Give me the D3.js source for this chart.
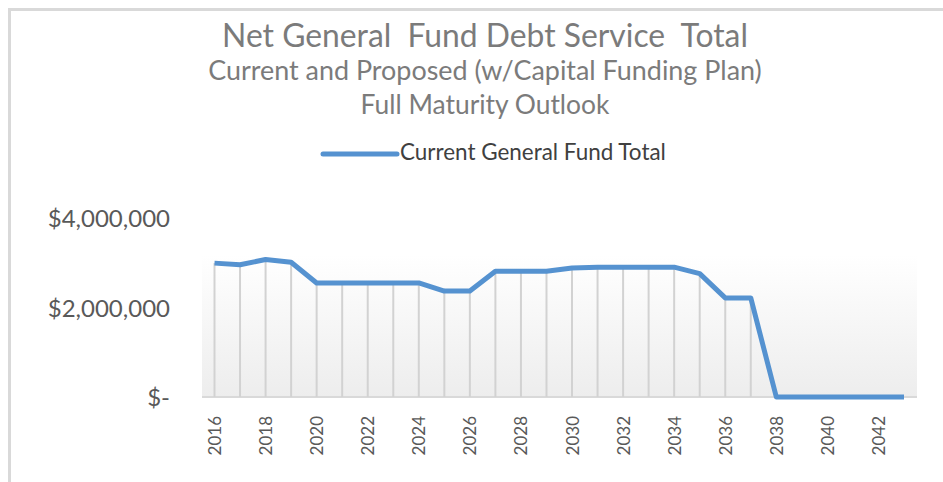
<!DOCTYPE html>
<html><head><meta charset="utf-8">
<script src="https://cdn.jsdelivr.net/npm/d3@7"></script>
<style>html,body{margin:0;padding:0;background:#fff;overflow:hidden}</style>
</head><body>
<svg id="c" width="943" height="482"></svg>
<script>
const years = [2016,2017,2018,2019,2020,2021,2022,2023,2024,2025,2026,2027,2028,2029,2030,2031,2032,2033,2034,2035,2036,2037,2038,2039,2040,2041,2042,2043];
const values = [3000000,2965000,3080000,3020000,2555000,2555000,2555000,2555000,2555000,2375000,2375000,2820000,2820000,2820000,2890000,2910000,2910000,2910000,2910000,2765000,2220000,2220000,0,0,0,0,0,0];
const yTicks = [0,2000000,4000000];
const yTickLabels = ["$-","$2,000,000","$4,000,000"];
const xTickYears = [2016,2018,2020,2022,2024,2026,2028,2030,2032,2034,2036,2038,2040,2042];
const seriesName = "Current General Fund Total";
const titleLines = ["Net General  Fund Debt Service  Total","Current and Proposed (w/Capital Funding Plan)","Full Maturity Outlook"];

const svg = d3.select("#c");
const font = "Lato, 'Open Sans', sans-serif";

// chart border
svg.append("rect").attr("x",9.5).attr("y",9.5).attr("width",1000).attr("height",1000)
  .attr("fill","none").attr("stroke","#d9d9d9").attr("stroke-width",3);

const x = d3.scalePoint().domain(years).range([214.5, 904]);
const y = d3.scaleLinear().domain([0,4000000]).range([397, 218.5]);

// plot area gradient
const defs = svg.append("defs");
const g = defs.append("linearGradient").attr("id","pg").attr("x1",0).attr("y1",0).attr("x2",0).attr("y2",1);
g.append("stop").attr("offset","0%").attr("stop-color","#ffffff");
g.append("stop").attr("offset","100%").attr("stop-color","#ededed");
svg.append("rect").attr("x",202).attr("y",255).attr("width",715).attr("height",142).attr("fill","url(#pg)");

// axis line
svg.append("line").attr("x1",202).attr("x2",917).attr("y1",y(0)).attr("y2",y(0))
  .attr("stroke","#d9d9d9").attr("stroke-width",2);

// drop lines
svg.append("g").selectAll("line").data(years).join("line")
  .attr("x1",d=>x(d)).attr("x2",d=>x(d))
  .attr("y1",(d,i)=>y(values[i])).attr("y2",y(0))
  .attr("stroke","#d2d2d2").attr("stroke-width",2);

// series line
const line = d3.line().x((d,i)=>x(years[i])).y(d=>y(d));
svg.append("path").datum(values).attr("d",line).attr("fill","none")
  .attr("stroke","#5592d0").attr("stroke-width",5).attr("stroke-linejoin","round");

function fitText(sel, target){
  const w = sel.node().getComputedTextLength();
  const fs = parseFloat(sel.attr("font-size"));
  sel.attr("font-size", fs*target/w);
  return fs*target/w;
}

// y axis labels
const yAxis = d3.axisLeft(y).tickValues(yTicks).tickSize(0).tickPadding(0)
  .tickFormat(d=>yTickLabels[yTicks.indexOf(d)]);
const ya = svg.append("g").attr("transform","translate(170,0)").call(yAxis);
ya.select(".domain").remove();
ya.selectAll("text").attr("font-family",font).attr("font-size",24)
  .attr("fill","#595959").attr("dy","0.35em");

// x axis labels
const xAxis = d3.axisBottom(x).tickValues(xTickYears).tickSize(0).tickPadding(0);
const xa = svg.append("g").attr("transform",`translate(0,${y(0)})`).call(xAxis);
xa.select(".domain").remove();
xa.selectAll("text").attr("font-family",font).attr("font-size",17).attr("fill","#595959")
  .attr("text-anchor","end").attr("dy",null).attr("y",0)
  .attr("transform","translate(6,19) rotate(-90)");

// titles
const t1 = svg.append("text").attr("x",485).attr("y",47).attr("text-anchor","middle")
  .attr("font-family",font).attr("font-size",30).attr("fill","#7b7b7b")
  .style("white-space","pre").text(titleLines[0]);
fitText(t1,526);
const t2 = svg.append("text").attr("x",485).attr("y",80).attr("text-anchor","middle")
  .attr("font-family",font).attr("font-size",21).attr("fill","#7b7b7b").text(titleLines[1]);
fitText(t2,554);
const t3 = svg.append("text").attr("x",485).attr("y",114).attr("text-anchor","middle")
  .attr("font-family",font).attr("font-size",21).attr("fill","#7b7b7b").text(titleLines[2]);
fitText(t3,249);

// legend
svg.append("line").attr("x1",323).attr("x2",397).attr("y1",154).attr("y2",154)
  .attr("stroke","#5592d0").attr("stroke-width",5).attr("stroke-linecap","round");
const lt = svg.append("text").attr("x",400).attr("y",160).attr("font-family",font)
  .attr("font-size",17).attr("fill","#404040").text(seriesName);
fitText(lt,266);
</script>
</body></html>
